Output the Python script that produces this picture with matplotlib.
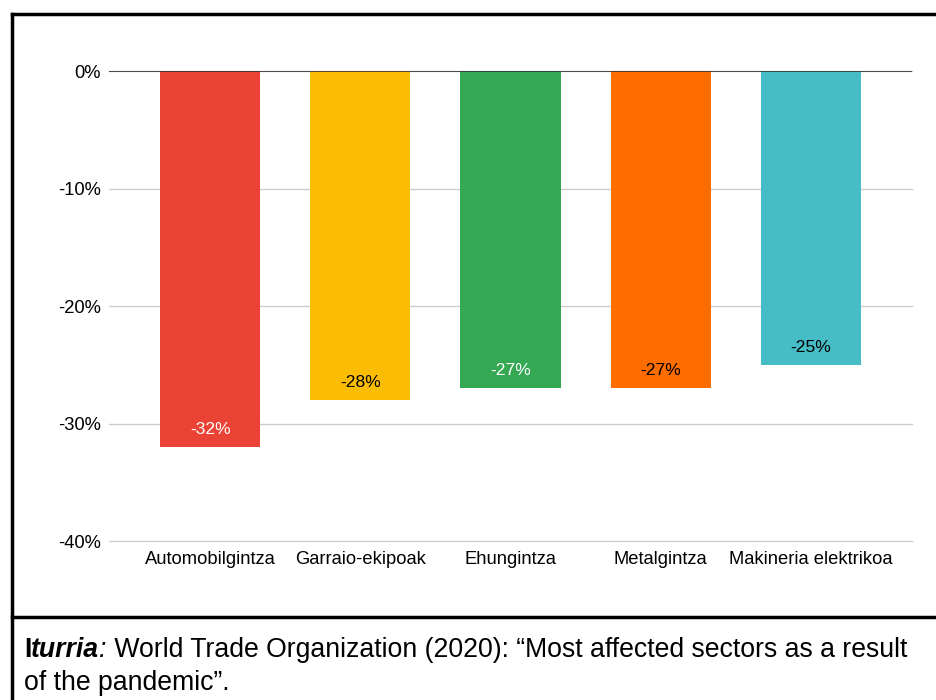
import matplotlib.pyplot as plt
from matplotlib.ticker import FuncFormatter

plt.rcParams['font.family'] = ['Liberation Sans', 'DejaVu Sans']

sectors = ["Automobilgintza", "Garraio-ekipoak", "Ehungintza", "Metalgintza", "Makineria elektrikoa"]
changes = [-32, -28, -27, -27, -25]
bar_colors = ['#EA4335', '#FBBC04', '#34A853', '#FF6D01', '#46BDC6']
label_colors = ['white', 'black', 'white', 'black', 'black']
y_ticks = [0, -10, -20, -30, -40]

fig = plt.figure(figsize=(9.37, 7.0), dpi=100)
ax = fig.add_axes([109 / 937, 1 - 541 / 700, (912 - 109) / 937, (541 - 71) / 700])

x = range(len(sectors))
ax.bar(x, changes, width=0.667, color=bar_colors, zorder=3)

for i, v in enumerate(changes):
    ax.annotate(f"{v}%", xy=(i, v), xytext=(0, 12.5), textcoords='offset points',
                ha='center', va='center', fontsize=12.6, color=label_colors[i], zorder=4)

ax.set_xlim(-0.675, len(sectors) - 1 + 0.675)
ax.set_ylim(-40, 0)
ax.set_yticks(y_ticks)
ax.yaxis.set_major_formatter(FuncFormatter(lambda v, _: f"{v:.0f}%"))
ax.set_xticks(list(x))
ax.set_xticklabels(sectors, fontsize=13.2)
ax.tick_params(axis='y', length=0, pad=6, labelsize=13.2)
ax.tick_params(axis='x', length=0, pad=7)
ax.grid(axis='y', color='#cccccc', linewidth=1, zorder=0)
for line in ax.get_ygridlines():
    line.set_clip_on(False)
ax.axhline(0, color='#333333', linewidth=1.2, zorder=5)
for side in ax.spines.values():
    side.set_visible(False)

# frame around the chart and the source note
fig.add_artist(plt.Line2D([12 / 937, 1], [1 - 14 / 700] * 2, color='black', linewidth=2.5, transform=fig.transFigure))
fig.add_artist(plt.Line2D([12 / 937] * 2, [1 - 14 / 700, 0], color='black', linewidth=2.5, transform=fig.transFigure))
fig.add_artist(plt.Line2D([12 / 937, 1], [1 - 617 / 700] * 2, color='black', linewidth=2.5, transform=fig.transFigure))

# source note: mixed bold / italic runs on the first line
fig.canvas.draw()
renderer = fig.canvas.get_renderer()
x_px = 24
y1 = 1 - 650 / 700
runs = [("I", 'bold', 'normal'), ("turria", 'bold', 'italic'), (":", 'normal', 'italic'),
        (" World Trade Organization (2020): \u201cMost affected sectors as a result", 'normal', 'normal')]
for txt, weight, style in runs:
    t = fig.text(x_px / 937, y1, txt, fontsize=19.2, fontweight=weight, fontstyle=style, va='center', ha='left')
    x_px += t.get_window_extent(renderer).width
fig.text(24 / 937, 1 - 683 / 700, "of the pandemic\u201d.", fontsize=19.2, va='center', ha='left')

fig.savefig('out.png', dpi=100)
